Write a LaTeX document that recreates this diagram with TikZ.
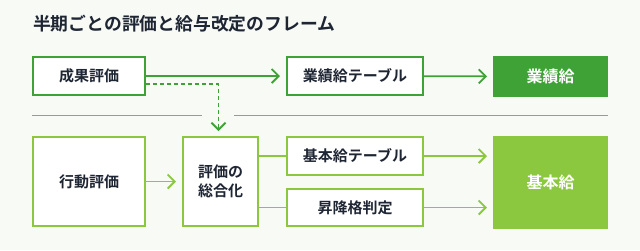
\documentclass[tikz,border=0pt]{standalone}
\usepackage{fontspec}
\setmainfont{Noto Sans CJK JP}[BoldFont={Noto Sans CJK JP Bold}]
\usetikzlibrary{arrows.meta}

\definecolor{darkgreen}{HTML}{3FA236}
\definecolor{lightgreen}{HTML}{8CC83F}
\definecolor{ink}{HTML}{1E2533}
\definecolor{paper}{HTML}{F8FAF5}
\definecolor{rulegray}{HTML}{9A9A9A}

\begin{document}
\begin{tikzpicture}[x=1pt, y=-1pt,
  box/.style={draw, line width=2pt, fill=white, text=ink, inner sep=0pt, align=center,
    font=\bfseries\fontsize{15}{19}\selectfont},
  topbox/.style={box, draw=darkgreen},
  lowbox/.style={box, draw=lightgreen},
  paybox/.style={box, text=white, font=\bfseries\fontsize{16}{19}\selectfont},
  link/.style={line width=1.8pt},
  arrow/.style={link, -{Straight Barb[length=7pt, width=14pt]}, shorten >=6pt}]
  \fill[paper] (0,0) rectangle (640,250);

  \node[anchor=west, inner sep=0pt, text=ink, font=\bfseries\fontsize{17.8}{20}\selectfont] (title) at (33,23.5) {半期ごとの評価と給与改定のフレーム};

  % upper row
  \node[topbox, minimum width=112pt, minimum height=38pt] (perf) at (89,76) {成果評価};
  \node[topbox, minimum width=136pt, minimum height=38pt] (perftable) at (355,76) {業績給テーブル};
  \node[paybox, draw=darkgreen, fill=darkgreen, minimum width=113pt, minimum height=39pt] (perfpay) at (550.5,76.5) {業績給};

  % lower row
  \node[lowbox, minimum width=112pt, minimum height=89pt] (behav) at (89,181.5) {行動評価};
  \node[lowbox, minimum width=75pt, minimum height=89pt] (integ) at (220.5,181.5) {評価の\\総合化};
  \node[lowbox, minimum width=136pt, minimum height=38pt] (basetable) at (355,156) {基本給テーブル};
  \node[lowbox, minimum width=136pt, minimum height=37pt] (grade) at (355,207.5) {昇降格判定};
  \node[paybox, draw=lightgreen, fill=lightgreen, minimum width=113pt, minimum height=91pt] (basepay) at (550.5,182) {基本給};

  % separator
  \coordinate (ruleA) at (32,115.5);
  \coordinate (ruleB) at (202,115.5);
  \coordinate (ruleC) at (234,115.5);
  \coordinate (ruleD) at (608,115.5);
  \draw[rulegray, line width=1pt] (ruleA) -- (ruleB);
  \draw[rulegray, line width=1pt] (ruleC) -- (ruleD);

  \draw[arrow, darkgreen] (perf) -- (perftable);
  \draw[arrow, darkgreen] (perftable) -- (perfpay);
  \draw[arrow, darkgreen, dash pattern=on 4pt off 3pt, shorten >=5pt]
    ([yshift=-8pt]perf.east) -| ([xshift=-2pt]integ.north);

  \draw[arrow, lightgreen] (behav) -- (integ);
  \draw[link, lightgreen] (integ.east |- basetable.west) -- (basetable.west);
  \draw[link, lightgreen] (integ.east |- grade.west) -- (grade.west);
  \draw[arrow, lightgreen] (basetable.east) -- (basetable.east -| basepay.west);
  \draw[arrow, lightgreen] (grade.east) -- (grade.east -| basepay.west);
\end{tikzpicture}
\end{document}
